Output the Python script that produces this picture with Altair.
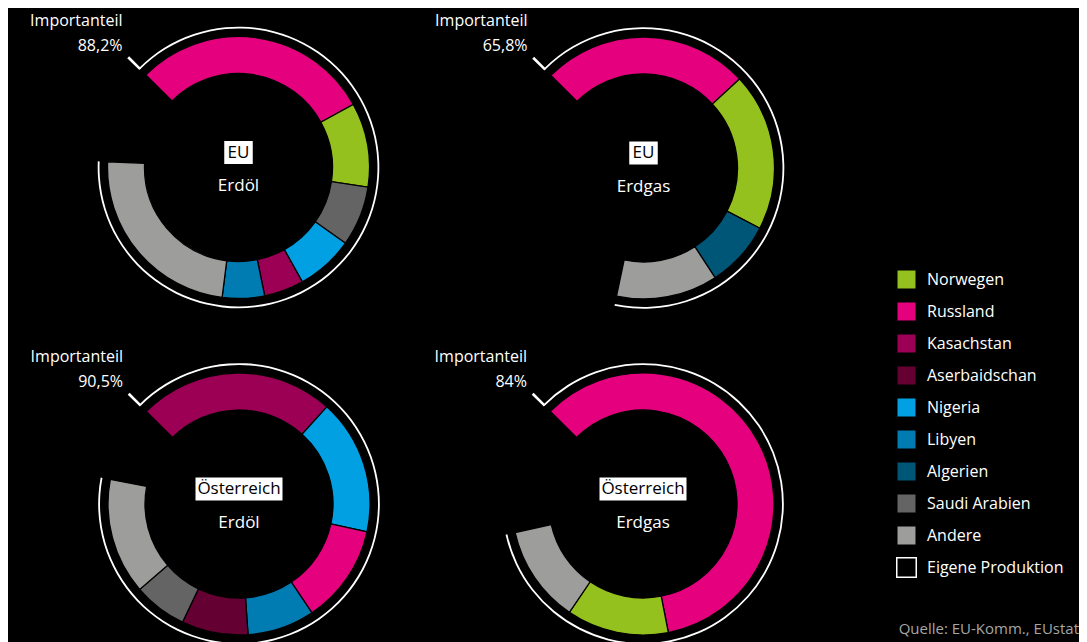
import math
import altair as alt
import pandas as pd

# ---------------- data ----------------
legend_order = ["Norwegen", "Russland", "Kasachstan", "Aserbaidschan", "Nigeria",
                "Libyen", "Algerien", "Saudi Arabien", "Andere", "Eigene Produktion"]
legend_colors = ["#95c11f", "#e5007e", "#9b0055", "#640032", "#00a0e2",
                 "#007cb3", "#005677", "#646464", "#9d9d9c", "#000000"]
legend_strokes = ["#000000"] * 9 + ["#ffffff"]

regions = ["EU", "EU", "Österreich", "Österreich"]
fuels = ["Erdöl", "Erdgas", "Erdöl", "Erdgas"]
import_share = [88.2, 65.8, 90.5, 84.0]
import_labels = ["88,2%", "65,8%", "90,5%", "84%"]
label_title = "Importanteil"

eu_oil_countries = ["Russland", "Norwegen", "Saudi Arabien", "Nigeria", "Kasachstan", "Libyen", "Andere"]
eu_oil_values = [29.5, 10.4, 7.4, 7.1, 4.9, 5.2, 23.7]

eu_gas_countries = ["Russland", "Norwegen", "Algerien", "Andere"]
eu_gas_values = [25.6, 19.5, 8.2, 12.5]

at_oil_countries = ["Kasachstan", "Nigeria", "Russland", "Libyen", "Aserbaidschan", "Saudi Arabien", "Andere"]
at_oil_values = [24.2, 16.7, 12.2, 8.3, 8.2, 6.6, 14.3]

at_gas_countries = ["Russland", "Norwegen", "Andere"]
at_gas_values = [59.4, 12.6, 12.0]

source_text = "Quelle: EU-Komm., EUstat"

panel_countries = [eu_oil_countries, eu_gas_countries, at_oil_countries, at_gas_countries]
panel_values = [eu_oil_values, eu_gas_values, at_oil_values, at_gas_values]

# ---------------- layout ----------------
W, H = 1071, 634
centers = [(230.5, 159.5), (635.5, 160.0), (231.0, 496.0), (635.0, 496.0)]
box_w = {"EU": 28.5, "Österreich": 87.0}
R_OUT, R_IN = 131, 94
FONT = "Open Sans"

theta_scale = alt.Scale(domain=[0, 100], range=[-math.pi / 4, 2 * math.pi - math.pi / 4])
color_scale = alt.Scale(domain=legend_order, range=legend_colors)
stroke_scale = alt.Scale(domain=legend_order, range=legend_strokes)

legend_kw = dict(
    title=None, orient="none", legendX=888, legendY=261,
    symbolType="square", symbolSize=380, symbolStrokeWidth=1.5,
    labelFont=FONT, labelFontSize=16, labelColor="white", labelOffset=10,
    rowPadding=5, padding=0, labelLimit=300,
)

layers = []
for i in range(4):
    cx, cy = centers[i]
    countries = panel_countries[i]
    values = panel_values[i]
    starts, ends, acc = [], [], 0.0
    for v in values:
        starts.append(acc)
        acc += v
        ends.append(acc)
    seg = pd.DataFrame({"Land": countries, "start": starts, "end": ends})

    arcs = alt.Chart(seg).mark_arc(x=cx, y=cy, radius=R_OUT, radius2=R_IN, strokeWidth=1.3).encode(
        theta=alt.Theta("start:Q", scale=theta_scale),
        theta2="end:Q",
        color=alt.Color("Land:N", scale=color_scale, legend=alt.Legend(**legend_kw)),
        stroke=alt.Stroke("Land:N", scale=stroke_scale, legend=alt.Legend(**legend_kw)),
    )
    layers.append(arcs)

    share = pd.DataFrame({"start": [0.0], "end": [import_share[i]]})
    outer = alt.Chart(share).mark_arc(x=cx, y=cy, radius=140.8, radius2=139.0, color="white").encode(
        theta=alt.Theta("start:Q", scale=theta_scale),
        theta2="end:Q",
    )
    layers.append(outer)

    tick = pd.DataFrame({"start": [-0.14], "end": [0.14]})
    tick_arc = alt.Chart(tick).mark_arc(x=cx, y=cy, radius=156, radius2=139.0, color="white").encode(
        theta=alt.Theta("start:Q", scale=theta_scale),
        theta2="end:Q",
    )
    layers.append(tick_arc)

    lab = pd.DataFrame({"title": [label_title], "value": [import_labels[i]],
                        "region": [regions[i]], "fuel": [fuels[i]]})
    layers.append(alt.Chart(lab).mark_text(
        x=cx - 116, y=cy - 147, align="right", baseline="middle",
        font=FONT, fontSize=16, color="white").encode(text="title:N"))
    layers.append(alt.Chart(lab).mark_text(
        x=cx - 116, y=cy - 122, align="right", baseline="middle",
        font=FONT, fontSize=16, color="white").encode(text="value:N"))

    bw = box_w[regions[i]]
    layers.append(alt.Chart(lab).mark_rect(color="white").encode(
        x=alt.value(cx - bw / 2), x2=alt.value(cx + bw / 2),
        y=alt.value(cy - 26.5), y2=alt.value(cy - 3.5)))
    layers.append(alt.Chart(lab).mark_text(
        x=cx, y=cy - 15, align="center", baseline="middle",
        font=FONT, fontSize=17, color="black").encode(text="region:N"))
    layers.append(alt.Chart(lab).mark_text(
        x=cx, y=cy + 18.5, align="center", baseline="middle",
        font=FONT, fontSize=17, color="white").encode(text="fuel:N"))

src = pd.DataFrame({"src": [source_text]})
layers.append(alt.Chart(src).mark_text(
    x=1071, y=621, align="right", baseline="middle",
    font=FONT, fontSize=15, color="#a6a6a6").encode(text="src:N"))

chart = alt.layer(*layers).properties(
    width=W, height=H, background="black", padding=0,
    autosize=alt.AutoSizeParams(type="none"),
).configure_view(stroke=None)

chart.save("out.html", embed_options={"renderer": "svg", "actions": False})
